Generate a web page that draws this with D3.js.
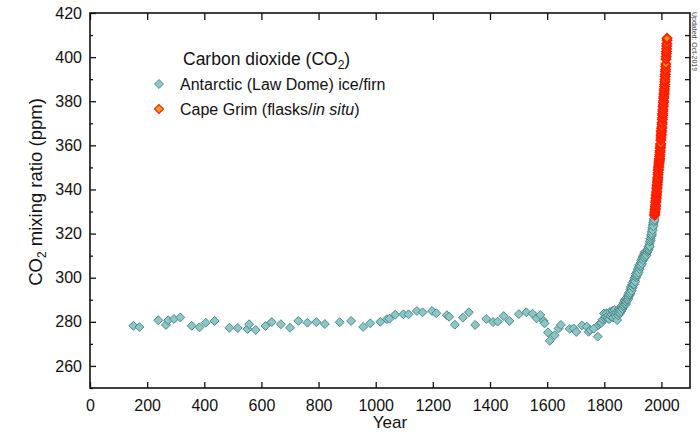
<!DOCTYPE html>
<html>
<head>
<meta charset="utf-8">
<script src="https://cdn.jsdelivr.net/npm/d3@7"></script>
<style>
  body { margin: 0; background: #fff; }
  svg { display: block; }
  .narrow { font-family: "Liberation Sans Narrow", "Arial Narrow", "Liberation Sans", Arial, sans-serif; }
  .regular { font-family: "Liberation Sans", Arial, sans-serif; }
</style>
</head>
<body>
<script>
// Law Dome ice/firn CO2 record (year, ppm)
const lawDomeYears = [
  152, 173, 239, 266, 274, 294, 316, 356, 383, 405, 436, 488, 517, 551, 557, 580,
  614, 636, 668, 700, 729, 761, 792, 822, 874, 914, 956, 981, 1016, 1039, 1048, 1068,
  1097, 1115, 1144, 1164, 1197, 1212, 1249, 1257, 1277, 1305, 1326, 1348, 1387, 1411,
  1427, 1448, 1468, 1501, 1527, 1549, 1563, 1576, 1588, 1591, 1603, 1609, 1626, 1640,
  1648, 1679, 1693, 1702, 1722, 1739, 1745, 1751, 1763, 1777, 1780, 1786, 1790, 1794,
  1799, 1802, 1805, 1808, 1811, 1814, 1817, 1820, 1822, 1826, 1828, 1831, 1834, 1836,
  1839, 1842, 1845, 1847, 1850, 1852, 1855, 1857, 1860, 1862, 1864, 1867, 1869, 1871,
  1873, 1875, 1877, 1879, 1881, 1883, 1885, 1887, 1889, 1891, 1893, 1895, 1897, 1899,
  1901, 1903, 1905, 1907, 1909, 1911, 1913, 1915, 1917, 1919, 1921, 1923, 1925, 1927,
  1929, 1931, 1933, 1935, 1937, 1939, 1941, 1943, 1945, 1947, 1949, 1951, 1953, 1955,
  1957, 1958, 1960, 1961, 1962, 1964, 1965, 1966, 1967, 1968, 1969, 1970, 1971, 1972,
  1973, 1974, 1975,
  1833, 1841, 1849, 1854, 1859, 1863, 1868, 1872, 1876, 1880, 1884, 1888, 1892, 1896,
  1900, 1904, 1908, 1912, 1916, 1920, 1924, 1928, 1932, 1936, 1940, 1944, 1948, 1952,
  1956, 1959, 1963, 1966, 1969, 1972, 1974, 1976, 1977
];
const lawDomeCO2 = [
  278.2, 277.6, 280.7, 278.6, 280.7, 281.3, 282.0, 278.2, 277.5, 279.6, 280.4, 277.3, 277.2, 276.7, 278.9, 276.3,
  278.1, 279.9, 278.9, 277.3, 280.4, 279.6, 279.9, 279.0, 279.8, 280.4, 277.7, 279.3, 280.0, 281.2, 281.4, 283.2,
  283.4, 283.4, 284.9, 284.3, 284.9, 283.9, 283.0, 282.3, 278.7, 281.9, 284.3, 278.6, 281.3, 279.9,
  280.1, 282.6, 280.4, 283.5, 284.3, 283.7, 281.6, 283.1, 280.4, 279.3, 275.2, 271.4, 273.9, 277.0,
  278.6, 276.8, 277.0, 275.4, 278.4, 277.8, 275.5, 276.3, 276.9, 273.3, 278.6, 279.3, 279.6, 281.0,
  283.8, 281.5, 282.2, 283.9, 281.8, 283.0, 281.2, 284.5, 282.6, 283.4, 284.9, 282.0, 283.7, 285.4,
  283.1, 284.3, 280.8, 285.0, 284.1, 286.0, 283.9, 285.7, 286.3, 287.4, 285.8, 288.6, 287.3, 289.8,
  288.0, 290.3, 289.1, 291.0, 290.0, 292.2, 291.3, 293.4, 292.4, 294.6, 295.8, 294.9, 296.7, 297.8,
  296.8, 298.6, 299.8, 298.9, 300.7, 301.9, 301.0, 302.6, 303.8, 303.1, 304.8, 305.9, 305.2, 306.7,
  307.8, 307.1, 308.8, 309.8, 309.2, 310.6, 311.4, 310.8, 311.8, 310.9, 312.3, 311.6, 313.0, 314.2,
  313.8, 315.4, 316.3, 317.6, 316.9, 318.8, 319.6, 320.8, 320.2, 322.0, 322.8, 323.9, 325.0, 324.4,
  326.1, 326.8, 327.6,
  284.6, 282.2, 282.9, 285.1, 284.8, 286.4, 286.7, 288.2, 288.1, 289.9, 290.3, 291.9, 293.1, 294.0,
  295.6, 297.0, 298.2, 300.1, 301.4, 302.3, 303.9, 305.4, 306.3, 307.9, 309.0, 309.6, 310.2, 312.4,
  312.9, 314.3, 317.8, 319.2, 321.5, 323.3, 325.3, 326.2, 328.5
];

// Cape Grim flask / in situ record, half-yearly (year, ppm)
const capeGrimYears = [
  1976.0, 1976.5, 1977.0, 1977.5, 1978.0, 1978.5, 1979.0, 1979.5, 1980.0, 1980.5,
  1981.0, 1981.5, 1982.0, 1982.5, 1983.0, 1983.5, 1984.0, 1984.5, 1985.0, 1985.5,
  1986.0, 1986.5, 1987.0, 1987.5, 1988.0, 1988.5, 1989.0, 1989.5, 1990.0, 1990.5,
  1991.0, 1991.5, 1992.0, 1992.5, 1993.0, 1993.5, 1994.0, 1994.5, 1995.0, 1995.5,
  1996.0, 1996.5, 1997.0, 1997.5, 1998.0, 1998.5, 1999.0, 1999.5, 2000.0, 2000.5,
  2001.0, 2001.5, 2002.0, 2002.5, 2003.0, 2003.5, 2004.0, 2004.5, 2005.0, 2005.5,
  2006.0, 2006.5, 2007.0, 2007.5, 2008.0, 2008.5, 2009.0, 2009.5, 2010.0, 2010.5,
  2011.0, 2011.5, 2012.0, 2012.5, 2013.0, 2013.5, 2014.0, 2014.5, 2015.0, 2015.5,
  2016.0, 2016.5, 2017.0, 2017.5, 2018.0, 2018.5, 2019.0, 2019.5, 2019.7
];
const capeGrimCO2 = [
  328.3, 328.8, 329.6, 330.2, 330.9, 331.5, 332.3, 333.0, 334.1, 334.8,
  335.8, 336.3, 337.2, 337.7, 338.5, 339.2, 340.3, 340.8, 341.7, 342.3,
  343.2, 343.8, 344.8, 345.5, 346.8, 347.6, 348.7, 349.2, 350.1, 350.6,
  351.5, 352.0, 352.6, 353.0, 353.5, 354.0, 355.0, 355.7, 356.9, 357.6,
  358.7, 359.3, 360.2, 360.7, 362.3, 363.3, 364.4, 365.0, 366.0, 366.6,
  367.6, 368.3, 369.6, 370.4, 371.7, 372.5, 373.7, 374.3, 375.5, 376.3,
  377.5, 378.3, 379.4, 380.1, 381.3, 382.0, 383.0, 383.7, 384.8, 385.6,
  386.7, 387.6, 388.8, 389.8, 391.2, 392.2, 393.5, 394.4, 395.8, 396.9,
  399.0, 400.3, 401.5, 402.6, 403.8, 405.0, 406.2, 407.6, 408.5
];

const xTicks = [0, 200, 400, 600, 800, 1000, 1200, 1400, 1600, 1800, 2000];
const yTicks = [260, 280, 300, 320, 340, 360, 380, 400, 420];
const yMinorTicks = [250, 270, 290, 310, 330, 350, 370, 390, 410];
const yRightTicks = [260, 270, 280, 290, 300, 310, 320, 330, 340, 350, 360, 370, 380, 390, 400, 410];

const W = 700, H = 437;
const plot = { left: 90, right: 690, top: 13, bottom: 388 };

const x = d3.scaleLinear().domain([0, 2100]).range([plot.left, plot.right]);
const y = d3.scaleLinear().domain([250, 420]).range([plot.bottom, plot.top]);

const svg = d3.select("body").append("svg").attr("width", W).attr("height", H);

// Axes (ticks point inward)
const gBottom = svg.append("g").attr("transform", `translate(0,${plot.bottom})`)
  .call(d3.axisBottom(x).tickValues(xTicks).tickFormat(d3.format("d"))
    .tickSizeInner(-6).tickSizeOuter(0).tickPadding(12));
const gTop = svg.append("g").attr("transform", `translate(0,${plot.top})`)
  .call(d3.axisTop(x).tickValues(xTicks).tickSizeInner(-7).tickSizeOuter(0).tickFormat(""));
const gLeft = svg.append("g").attr("transform", `translate(${plot.left},0)`)
  .call(d3.axisLeft(y).tickValues(yTicks).tickFormat(d3.format("d"))
    .tickSizeInner(-6).tickSizeOuter(0).tickPadding(8));
const gLeftMinor = svg.append("g").attr("transform", `translate(${plot.left},0)`)
  .call(d3.axisLeft(y).tickValues(yMinorTicks).tickSizeInner(-3).tickSizeOuter(0).tickFormat(""));
const gRight = svg.append("g").attr("transform", `translate(${plot.right},0)`)
  .call(d3.axisRight(y).tickValues(yRightTicks).tickSizeInner(-5).tickSizeOuter(0).tickFormat(""));

[gBottom, gTop, gLeft, gLeftMinor, gRight].forEach(g => {
  g.select(".domain").remove();
  g.selectAll(".tick line").attr("stroke", "#111").attr("stroke-width", 1.3);
  g.selectAll(".tick text").attr("class", "narrow").attr("font-size", 16).attr("fill", "#111");
});

// Frame
svg.append("rect")
  .attr("x", plot.left).attr("y", plot.top)
  .attr("width", plot.right - plot.left).attr("height", plot.bottom - plot.top)
  .attr("fill", "none").attr("stroke", "#111").attr("stroke-width", 1.6);

// Data markers
const diamond = d3.symbol().type(d3.symbolSquare).size(40);

const lawDome = lawDomeYears.map((yr, i) => ({ yr, v: lawDomeCO2[i] }))
  .sort((a, b) => a.yr - b.yr);
const capeGrim = capeGrimYears.map((yr, i) => ({ yr, v: capeGrimCO2[i] }));

svg.append("g").selectAll("path").data(lawDome).join("path")
  .attr("d", diamond)
  .attr("transform", d => `translate(${x(d.yr)},${y(d.v)}) rotate(45)`)
  .attr("fill", "#8cc7c7").attr("stroke", "#4a8585").attr("stroke-width", 0.9);

svg.append("g").selectAll("path").data(capeGrim).join("path")
  .attr("d", diamond)
  .attr("transform", d => `translate(${x(d.yr)},${y(d.v)}) rotate(45)`)
  .attr("fill", "#ff8c0a").attr("stroke", "#ff1e00").attr("stroke-width", 1.8);

// Axis titles
svg.append("text").attr("class", "regular")
  .attr("x", 390).attr("y", 428).attr("text-anchor", "middle")
  .attr("font-size", 17).attr("fill", "#111").text("Year");

const yLabel = svg.append("text").attr("class", "regular")
  .attr("transform", "translate(42,192) rotate(-90)")
  .attr("text-anchor", "middle").attr("font-size", 18.5).attr("fill", "#111");
yLabel.append("tspan").text("CO");
yLabel.append("tspan").attr("font-size", 12).attr("dy", 4).text("2");
yLabel.append("tspan").attr("dy", -4).text(" mixing ratio (ppm)");

// Legend
const legend = svg.append("g");
const lt = legend.append("text").attr("class", "regular")
  .attr("x", 183).attr("y", 65).attr("font-size", 17.5).attr("fill", "#111");
lt.append("tspan").text("Carbon dioxide (CO");
lt.append("tspan").attr("font-size", 12).attr("dy", 4).text("2");
lt.append("tspan").attr("dy", -4).text(")");

legend.append("path").attr("d", diamond)
  .attr("transform", "translate(159,84) rotate(45)")
  .attr("fill", "#8cc7c7").attr("stroke", "#4a8585").attr("stroke-width", 0.9);
legend.append("text").attr("class", "regular")
  .attr("x", 180).attr("y", 90).attr("font-size", 16).attr("fill", "#111")
  .text("Antarctic (Law Dome) ice/firn");

legend.append("path").attr("d", diamond)
  .attr("transform", "translate(159,109) rotate(45)")
  .attr("fill", "#ff9a14").attr("stroke", "#ff2400").attr("stroke-width", 1.2);
const cg = legend.append("text").attr("class", "regular")
  .attr("x", 180).attr("y", 115).attr("font-size", 16).attr("fill", "#111");
cg.append("tspan").text("Cape Grim (flasks/");
cg.append("tspan").attr("font-style", "italic").text("in situ");
cg.append("tspan").text(")");

// Update stamp
svg.append("text").attr("class", "narrow")
  .attr("transform", "translate(692,12) rotate(90)")
  .attr("font-size", 7).attr("fill", "#444")
  .text("Updated: Oct-2019");
</script>
</body>
</html>
